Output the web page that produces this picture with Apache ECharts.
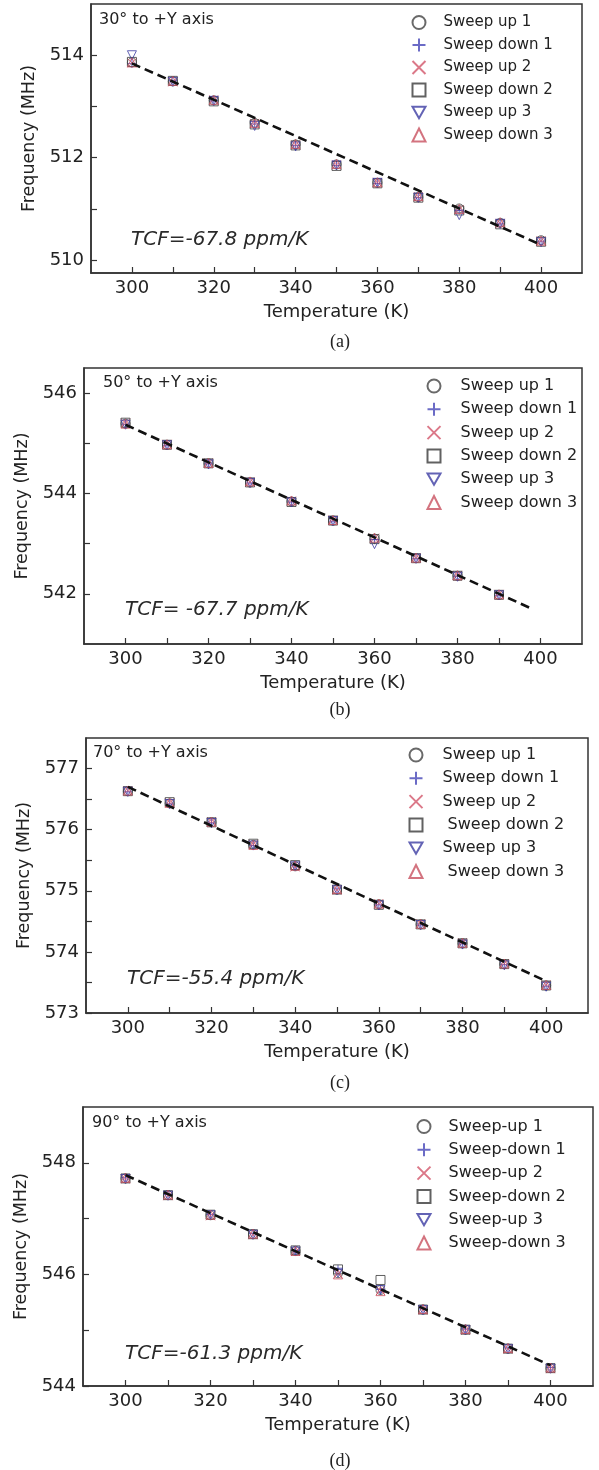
<!DOCTYPE html>
<html><head><meta charset="utf-8">
<script src="https://cdn.jsdelivr.net/npm/echarts@6/dist/echarts.min.js"></script>
<style>html,body{margin:0;padding:0;background:#fff}#c{width:599px;height:1470px}</style>
</head><body><div id="c"></div>
<script>
// ---------- data ----------
const temps = [300, 310, 320, 330, 340, 350, 360, 370, 380, 390, 400];
const namesAB = ['Sweep up 1', 'Sweep down 1', 'Sweep up 2', 'Sweep down 2', 'Sweep up 3', 'Sweep down 3'];
const namesC = ['Sweep up 1', 'Sweep down 1', 'Sweep up 2', ' Sweep down 2', 'Sweep up 3', ' Sweep down 3'];
const namesD = ['Sweep-up 1', 'Sweep-down 1', 'Sweep-up 2', 'Sweep-down 2', 'Sweep-up 3', 'Sweep-down 3'];

// (a) 30° to +Y axis
const aUp1   = [513.86, 513.49, 513.12, 512.68, 512.26, 511.87, 511.51, 511.23, 511.01, 510.73, 510.39];
const aDown1 = [513.84, 513.50, 513.11, 512.66, 512.24, 511.85, 511.50, 511.22, 510.98, 510.71, 510.37];
const aUp2   = [513.85, 513.48, 513.13, 512.67, 512.25, 511.86, 511.52, 511.24, 510.99, 510.72, 510.38];
const aDown2 = [513.87, 513.50, 513.10, 512.65, 512.24, 511.84, 511.50, 511.22, 510.97, 510.70, 510.36];
const aUp3   = [514.00, 513.48, 513.11, 512.62, 512.22, 511.85, 511.51, 511.22, 510.88, 510.71, 510.35];
const aDown3 = [513.86, 513.50, 513.13, 512.68, 512.27, 511.88, 511.52, 511.25, 511.00, 510.74, 510.38];
const aFitT = [300, 400];
const aFitF = [513.84, 510.30];

// (b) 50° to +Y axis
const bUp1   = [545.39, 544.97, 544.60, 544.22, 543.84, 543.46, 543.10, 542.71, 542.36, 541.98];
const bDown1 = [545.38, 544.96, 544.59, 544.21, 543.83, 543.45, 543.08, 542.70, 542.35, 541.97];
const bUp2   = [545.40, 544.98, 544.61, 544.23, 543.85, 543.47, 543.11, 542.72, 542.37, 541.99];
const bDown2 = [545.41, 544.97, 544.60, 544.22, 543.83, 543.46, 543.09, 542.71, 542.36, 541.98];
const bUp3   = [545.37, 544.96, 544.58, 544.21, 543.82, 543.45, 542.99, 542.70, 542.34, 541.97];
const bDown3 = [545.39, 544.98, 544.61, 544.24, 543.86, 543.47, 543.12, 542.72, 542.37, 541.99];
const bFitT = [300, 398];
const bFitF = [545.37, 541.70];

// (c) 70° to +Y axis
const cUp1   = [576.63, 576.43, 576.12, 575.75, 575.40, 575.02, 574.78, 574.45, 574.14, 573.80, 573.45];
const cDown1 = [576.62, 576.42, 576.11, 575.74, 575.41, 575.03, 574.77, 574.44, 574.13, 573.79, 573.44];
const cUp2   = [576.64, 576.44, 576.13, 575.76, 575.39, 575.01, 574.79, 574.46, 574.15, 573.81, 573.46];
const cDown2 = [576.63, 576.45, 576.12, 575.77, 575.42, 575.02, 574.77, 574.45, 574.14, 573.80, 573.45];
const cUp3   = [576.62, 576.42, 576.11, 575.74, 575.40, 575.01, 574.76, 574.44, 574.12, 573.78, 573.43];
const cDown3 = [576.64, 576.44, 576.13, 575.75, 575.41, 575.03, 574.79, 574.46, 574.15, 573.81, 573.46];
const cFitT = [300, 400];
const cFitF = [576.70, 573.52];

// (d) 90° to +Y axis
const dUp1   = [547.72, 547.42, 547.06, 546.72, 546.42, 546.02, 545.72, 545.37, 545.01, 544.67, 544.32];
const dDown1 = [547.73, 547.43, 547.07, 546.73, 546.43, 546.09, 545.73, 545.38, 545.02, 544.68, 544.33];
const dUp2   = [547.71, 547.41, 547.05, 546.71, 546.41, 546.01, 545.71, 545.36, 545.00, 544.66, 544.31];
const dDown2 = [547.72, 547.42, 547.07, 546.72, 546.43, 546.09, 545.90, 545.37, 545.01, 544.67, 544.32];
const dUp3   = [547.71, 547.41, 547.06, 546.71, 546.41, 546.03, 545.72, 545.36, 545.00, 544.66, 544.31];
const dDown3 = [547.73, 547.43, 547.07, 546.73, 546.42, 546.00, 545.70, 545.38, 545.02, 544.68, 544.33];
const dFitT = [300, 400];
const dFitF = [547.78, 544.37];

// axes / ticks
const xTicks = [300, 310, 320, 330, 340, 350, 360, 370, 380, 390, 400];
const xLabels = [300, 320, 340, 360, 380, 400];
const yTicksA = [510, 511, 512, 513, 514];   const yLabelsA = [510, 512, 514];
const yTicksB = [542, 543, 544, 545, 546];   const yLabelsB = [542, 544, 546];
const yTicksC = [573, 573.5, 574, 574.5, 575, 575.5, 576, 576.5, 577]; const yLabelsC = [573, 574, 575, 576, 577];
const yTicksD = [544, 545, 546, 547, 548];   const yLabelsD = [544, 546, 548];
const yRangeA = [509.75, 515];
const yRangeB = [541, 546.5];
const yRangeC = [573, 577.5];
const yRangeD = [544, 549];
const xRange = [290, 410];

const panelTitles = ['30° to +Y axis', '50° to +Y axis', '70° to +Y axis', '90° to +Y axis'];
const tcfTexts = ['TCF=-67.8 ppm/K', 'TCF= -67.7 ppm/K', 'TCF=-55.4 ppm/K', 'TCF=-61.3 ppm/K'];
const captions = ['(a)', '(b)', '(c)', '(d)'];

// ---------- styling ----------
const FONT = 'DejaVu Sans';
const TXT = '#222';
const AX = '#333';
const symbols = ['circle', 'path://M5,0L5,10M0,5L10,5', 'path://M0,0L10,10M10,0L0,10', 'rect', 'path://M0,0L10,0L5,8.66Z', 'triangle'];
const colors = ['#444444', '#4646b8', '#d2566a', '#3a3a3a', '#3c3ca2', '#c8505f'];

const grids = [
  {left: 91, top: 4, width: 491, height: 269},
  {left: 84, top: 368, width: 498, height: 276},
  {left: 86, top: 738, width: 502, height: 275},
  {left: 83, top: 1107, width: 510, height: 279}
];
const panels = [
  {names: namesAB, data: [aUp1, aDown1, aUp2, aDown2, aUp3, aDown3], fitT: aFitT, fitF: aFitF, yr: yRangeA, yt: yTicksA, yl: yLabelsA},
  {names: namesAB, data: [bUp1, bDown1, bUp2, bDown2, bUp3, bDown3], fitT: bFitT, fitF: bFitF, yr: yRangeB, yt: yTicksB, yl: yLabelsB},
  {names: namesC,  data: [cUp1, cDown1, cUp2, cDown2, cUp3, cDown3], fitT: cFitT, fitF: cFitF, yr: yRangeC, yt: yTicksC, yl: yLabelsC},
  {names: namesD,  data: [dUp1, dDown1, dUp2, dDown2, dUp3, dDown3], fitT: dFitT, fitF: dFitF, yr: yRangeD, yt: yTicksD, yl: yLabelsD}
];
const yNameGap = [50, 45, 52, 53];
const legendPos = [
  {left: 411.5, top: 14.5, gap: 6.5, fs: 15, pad: 13},
  {left: 426.5, top: 378, gap: 7.3, fs: 16, pad: 15},
  {left: 408.5, top: 747, gap: 7.3, fs: 16, pad: 15},
  {left: 416.5, top: 1118.5, gap: 7.3, fs: 16, pad: 13}
];
const titlePos = [[99, 20], [103, 383], [93, 753], [92, 1123]];
const tcfPos = [[131, 240], [125, 610], [127, 979], [125, 1354]];
const capPos = [[340, 342], [340, 710], [340, 1083], [340, 1461]];

const xAxis = [], yAxis = [], series = [], legend = [], graphic = [];
panels.forEach((p, g) => {
  xAxis.push({
    type: 'value', gridIndex: g, min: xRange[0], max: xRange[1],
    axisLine: {show: true, onZero: false, lineStyle: {color: AX, width: 1.5}},
    axisTick: {show: true, inside: true, length: 6, customValues: xTicks, lineStyle: {color: AX, width: 1.2}},
    axisLabel: {customValues: xLabels, margin: 6, fontSize: 18, fontFamily: FONT, color: TXT},
    splitLine: {show: false},
    name: 'Temperature (K)', nameLocation: 'middle', nameGap: 30,
    nameTextStyle: {fontSize: 18, fontFamily: FONT, color: TXT}
  });
  yAxis.push({
    type: 'value', gridIndex: g, min: p.yr[0], max: p.yr[1],
    axisLine: {show: true, onZero: false, lineStyle: {color: AX, width: 1.5}},
    axisTick: {show: true, inside: true, length: 6, customValues: p.yt, lineStyle: {color: AX, width: 1.2}},
    axisLabel: {customValues: p.yl, margin: 7, fontSize: 18, fontFamily: FONT, color: TXT},
    splitLine: {show: false},
    name: 'Frequency (MHz)', nameLocation: 'middle', nameGap: yNameGap[g],
    nameTextStyle: {fontSize: 17.5, fontFamily: FONT, color: TXT}
  });
  p.data.forEach((arr, i) => {
    series.push({
      type: 'scatter', name: p.names[i], xAxisIndex: g, yAxisIndex: g,
      data: arr.map((v, j) => [temps[j], v]),
      symbol: symbols[i], symbolSize: 9, silent: true,
      itemStyle: {color: 'rgba(255,255,255,0)', borderColor: colors[i], borderWidth: 1},
      z: 2
    });
  });
  series.push({
    type: 'line', xAxisIndex: g, yAxisIndex: g, silent: true,
    data: p.fitT.map((t, j) => [t, p.fitF[j]]),
    symbol: 'none', lineStyle: {color: '#111', width: 2.6, type: [9, 5]}, z: 3
  });
  const lp = legendPos[g];
  legend.push({
    orient: 'vertical', left: lp.left, top: lp.top, padding: 0,
    itemWidth: 13, itemHeight: 13, itemGap: lp.gap, selectedMode: false,
    data: p.names,
    textStyle: {fontSize: lp.fs, lineHeight: 16, fontFamily: FONT, color: TXT, padding: [0, 0, 0, lp.pad]}
  });
  graphic.push({type: 'text', x: titlePos[g][0], y: titlePos[g][1],
    style: {text: panelTitles[g], font: '16px "DejaVu Sans"', fill: TXT, verticalAlign: 'middle'}});
  graphic.push({type: 'text', x: tcfPos[g][0], y: tcfPos[g][1],
    style: {text: tcfTexts[g], font: 'italic 20px "DejaVu Sans"', fill: '#2a2a2a', verticalAlign: 'middle'}});
  graphic.push({type: 'text', x: capPos[g][0], y: capPos[g][1],
    style: {text: captions[g], font: '18px "Liberation Serif"', fill: TXT, align: 'center', verticalAlign: 'middle'}});
});

const chart = echarts.init(document.getElementById('c'), null, {renderer: 'canvas'});
chart.setOption({
  animation: false,
  backgroundColor: '#fff',
  grid: grids.map(gr => Object.assign({show: true, borderColor: AX, borderWidth: 1.5, backgroundColor: 'transparent'}, gr)),
  xAxis, yAxis, series, legend, graphic
});
</script></body></html>
